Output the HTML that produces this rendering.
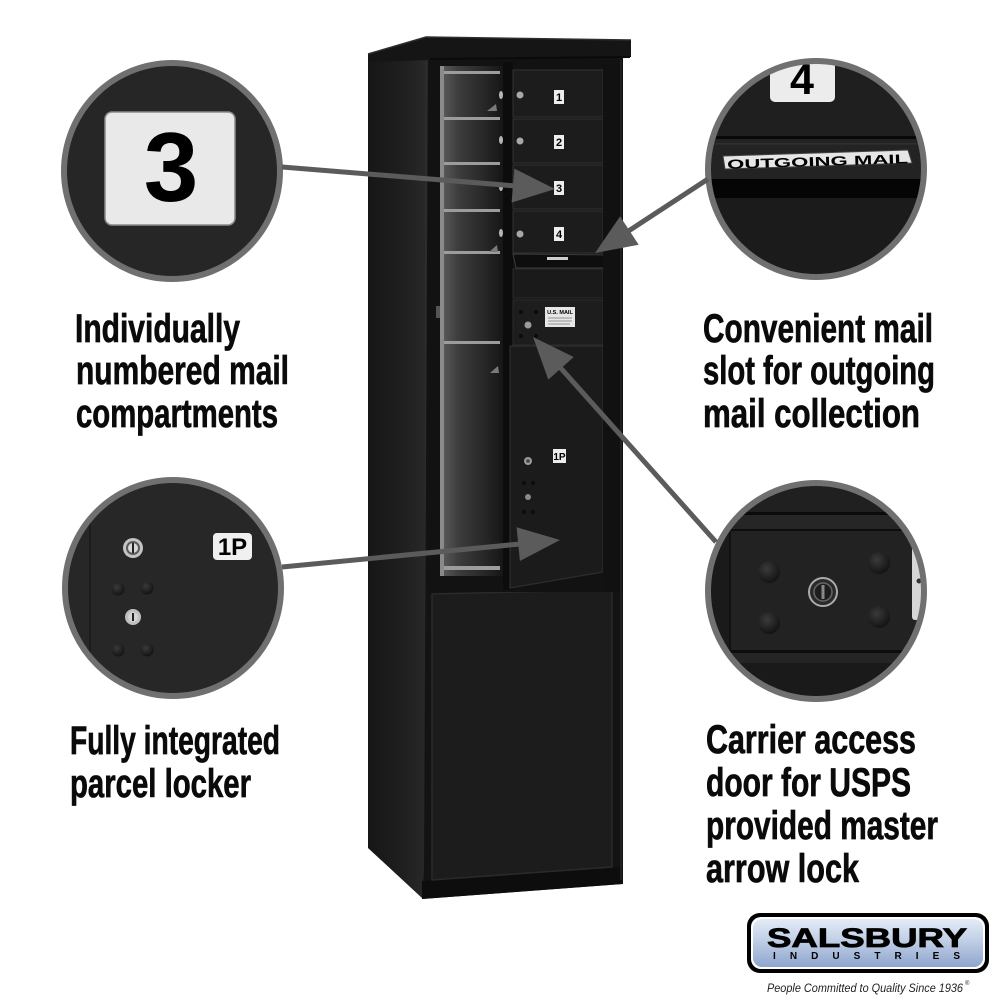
<!DOCTYPE html>
<html><head><meta charset="utf-8"><style>
html,body{margin:0;padding:0;background:#fff;}
svg{display:block;}
.t{font-family:"Liberation Sans",Arial,sans-serif;font-weight:bold;font-size:40px;fill:#0a0a0a;stroke:#0a0a0a;stroke-width:0.7px;}
</style></head><body>
<svg width="1000" height="1000" viewBox="0 0 1000 1000" xmlns="http://www.w3.org/2000/svg">
<defs>
  <linearGradient id="side" x1="0" x2="1" y1="0" y2="0">
    <stop offset="0" stop-color="#161616"/><stop offset="0.6" stop-color="#202020"/><stop offset="1" stop-color="#2a2a2a"/>
  </linearGradient>
  <linearGradient id="interior" x1="0" x2="1" y1="0" y2="0">
    <stop offset="0" stop-color="#5e5e5e"/><stop offset="0.3" stop-color="#3c3c3c"/><stop offset="0.65" stop-color="#2a2a2a"/><stop offset="1" stop-color="#161616"/>
  </linearGradient>
  <linearGradient id="logoG" x1="0" x2="0" y1="0" y2="1">
    <stop offset="0" stop-color="#e4ebf6"/><stop offset="0.5" stop-color="#bccbe4"/><stop offset="1" stop-color="#8ea5cd"/>
  </linearGradient>
  <radialGradient id="dot" cx="0.4" cy="0.35" r="0.7">
    <stop offset="0" stop-color="#3a3a3a"/><stop offset="1" stop-color="#111"/>
  </radialGradient>
  <clipPath id="c1"><circle cx="172" cy="171" r="108"/></clipPath>
  <clipPath id="c2"><circle cx="816" cy="169" r="108"/></clipPath>
  <clipPath id="c3"><circle cx="173" cy="588" r="108"/></clipPath>
  <clipPath id="c4"><circle cx="816" cy="591" r="108"/></clipPath>
</defs>
<rect width="1000" height="1000" fill="#fff"/>

<!-- ===== MAILBOX ===== -->
<polygon points="368,58 430,60 430,898 422,898 368,848" fill="url(#side)"/>
<line x1="426" y1="62" x2="426" y2="895" stroke="#2c2c2c" stroke-width="2"/>
<polygon points="428,57 623,57 623,884 422,899 424,870" fill="#131313"/>
<!-- cap -->
<polygon points="368,54 426,37 631,40 631,57 430,60 368,62" fill="#151515"/>
<polyline points="368,54 426,37 631,40" fill="none" stroke="#2e2e2e" stroke-width="1.5"/>
<line x1="430" y1="59" x2="630" y2="57" stroke="#0a0a0a" stroke-width="2"/>
<!-- plinth -->
<polygon points="422,881 622,867 622,884 422,899" fill="#0d0d0d"/>
<!-- lower panel -->
<polygon points="432,594 612,590 612,867 432,880" fill="#1c1c1c" stroke="#2a2a2a" stroke-width="1.5"/>
<!-- upper frame -->
<rect x="428" y="60" width="195" height="532" fill="#121212"/>
<!-- interior of open door -->
<rect x="440" y="66" width="63" height="510" fill="url(#interior)"/>
<rect x="440" y="66" width="4" height="510" fill="#8a8a8a"/>
<g fill="#9c9c9c">
  <rect x="444" y="71" width="56" height="3"/>
  <rect x="444" y="117" width="56" height="3"/>
  <rect x="444" y="162" width="56" height="3"/>
  <rect x="444" y="209" width="56" height="3"/>
  <rect x="444" y="251" width="56" height="3"/>
  <rect x="444" y="341" width="56" height="3"/>
  <rect x="444" y="566" width="56" height="4"/>
</g>
<g fill="#7a7a7a">
  <polygon points="487,111 496,104 497,111"/>
  <polygon points="489,252 497,245 498,252"/>
  <polygon points="490,373 498,366 499,373"/>
</g>
<g fill="#b5b5b5">
  <ellipse cx="501" cy="95" rx="2" ry="4"/>
  <ellipse cx="501" cy="140" rx="2" ry="4"/>
  <ellipse cx="501" cy="187" rx="2" ry="4"/>
  <ellipse cx="501" cy="233" rx="2" ry="4"/>
</g>
<rect x="436" y="306" width="4" height="12" fill="#555"/>
<!-- divider -->
<rect x="503" y="62" width="10" height="528" fill="#0c0c0c"/>
<!-- compartment doors -->
<g fill="#1c1c1c" stroke="#2f2f2f" stroke-width="1.2">
  <rect x="513" y="70" width="90" height="47"/>
  <rect x="513" y="119" width="90" height="44"/>
  <rect x="513" y="165" width="90" height="44"/>
  <rect x="513" y="211" width="90" height="42"/>
</g>
<g fill="#ededed">
  <rect x="554" y="90" width="10" height="14"/>
  <rect x="554" y="135" width="10" height="14"/>
  <rect x="554" y="181" width="10" height="14"/>
  <rect x="554" y="227" width="10" height="14"/>
</g>
<g font-family="Liberation Sans, Arial, sans-serif" font-weight="bold" font-size="11" fill="#000" text-anchor="middle">
  <text x="559" y="101">1</text>
  <text x="559" y="146">2</text>
  <text x="559" y="192">3</text>
  <text x="559" y="238">4</text>
</g>
<g fill="#a8a8a8">
  <circle cx="520" cy="95" r="3.5"/><circle cx="520" cy="141" r="3.5"/><circle cx="520" cy="234" r="3.5"/>
</g>
<!-- outgoing slot -->
<polygon points="513,254 613,255 609,268 516,268" fill="#0e0e0e" stroke="#3a3a3a" stroke-width="1"/>
<rect x="547" y="257" width="21" height="3" fill="#cfcfcf"/>
<rect x="513" y="269" width="90" height="29" fill="#1a1a1a" stroke="#2a2a2a" stroke-width="1"/>
<!-- USPS panel -->
<rect x="513" y="300" width="90" height="45" fill="#1d1d1d" stroke="#2c2c2c" stroke-width="1"/>
<rect x="545" y="307" width="30" height="20" fill="#e6e6e6"/>
<text x="560" y="314" font-family="Liberation Sans, Arial, sans-serif" font-weight="bold" font-size="5.5" text-anchor="middle" fill="#000">U.S. MAIL</text>
<g stroke="#777" stroke-width="0.8"><line x1="548" y1="318" x2="572" y2="318"/><line x1="548" y1="321" x2="572" y2="321"/><line x1="548" y1="324" x2="570" y2="324"/></g>
<circle cx="528" cy="325" r="3.5" fill="#9a9a9a"/>
<g fill="#0c0c0c"><circle cx="521" cy="312" r="2"/><circle cx="536" cy="312" r="2"/><circle cx="521" cy="336" r="2"/><circle cx="536" cy="336" r="2"/></g>
<!-- parcel door -->
<polygon points="510,346 603,346 603,572 510,588" fill="#1b1b1b" stroke="#2d2d2d" stroke-width="1.2"/>
<rect x="553" y="449" width="13" height="14" fill="#ececec"/>
<text x="559.5" y="460" font-family="Liberation Sans, Arial, sans-serif" font-weight="bold" font-size="10" text-anchor="middle" fill="#000">1P</text>
<circle cx="528" cy="461" r="4" fill="#9a9a9a"/><circle cx="528" cy="461" r="1.8" fill="#444"/>
<circle cx="528" cy="497" r="3" fill="#8a8a8a"/>
<g fill="#0d0d0d"><circle cx="524" cy="483" r="2.2"/><circle cx="533" cy="483" r="2.2"/><circle cx="524" cy="512" r="2.2"/><circle cx="533" cy="512" r="2.2"/></g>
<!-- right frame -->
<rect x="603" y="60" width="20" height="532" fill="#111"/>
<line x1="621" y1="60" x2="621" y2="880" stroke="#262626" stroke-width="1.5"/>

<!-- ===== CIRCLE 1 ===== -->
<circle cx="172" cy="171" r="108" fill="#262626"/>
<g clip-path="url(#c1)">
  <rect x="105" y="112" width="130" height="113" rx="7" fill="#e9e9e9" stroke="#8a8a8a" stroke-width="1.5"/>
  <text x="171" y="201" font-family="Liberation Sans, Arial, sans-serif" font-weight="bold" font-size="98" text-anchor="middle" fill="#000">3</text>
</g>
<circle cx="172" cy="171" r="108" fill="none" stroke="#707070" stroke-width="6"/>

<!-- ===== CIRCLE 2 ===== -->
<circle cx="816" cy="169" r="108" fill="#1e1e1e"/>
<g clip-path="url(#c2)">
  <rect x="700" y="55" width="240" height="83" fill="#1f1f1f"/>
  <rect x="770" y="40" width="65" height="62" rx="5" fill="#ececec"/>
  <text x="802" y="94" font-family="Liberation Sans, Arial, sans-serif" font-weight="bold" font-size="43" text-anchor="middle" fill="#000">4</text>
  <rect x="700" y="136" width="240" height="3" fill="#080808"/>
  <rect x="700" y="139" width="240" height="40" fill="#232323"/>
  <rect x="700" y="143" width="240" height="1.5" fill="#303030"/>
  <polygon points="723,156 908,150 912,163 725,169" fill="#e6e6e6" stroke="#444" stroke-width="1"/>
  <text x="727" y="166" transform="rotate(-1.8 818 160)" font-family="Liberation Sans, Arial, sans-serif" font-weight="bold" font-size="13" fill="#000" textLength="181" lengthAdjust="spacingAndGlyphs">OUTGOING MAIL</text>
  <rect x="700" y="179" width="240" height="19" fill="#050505"/>
  <rect x="700" y="198" width="240" height="90" fill="#1b1b1b"/>
</g>
<circle cx="816" cy="169" r="108" fill="none" stroke="#707070" stroke-width="6"/>

<!-- ===== CIRCLE 3 ===== -->
<circle cx="173" cy="588" r="108" fill="#272727"/>
<g clip-path="url(#c3)">
  <rect x="89" y="470" width="2" height="240" fill="#1c1c1c"/>
  <circle cx="133" cy="548" r="10" fill="#c4c4c4"/><circle cx="133" cy="548" r="7" fill="#5a5a5a"/><circle cx="133" cy="548" r="5" fill="#d8d8d8"/><rect x="132" y="543" width="2" height="10" fill="#222"/>
  <circle cx="133" cy="617" r="8" fill="#bfbfbf"/><circle cx="133" cy="617" r="5" fill="#d4d4d4"/><rect x="132" y="613" width="2" height="8" fill="#222"/>
  <circle cx="118" cy="589" r="6.5" fill="url(#dot)"/><circle cx="147" cy="588" r="6.5" fill="url(#dot)"/>
  <circle cx="118" cy="650" r="6.5" fill="url(#dot)"/><circle cx="147" cy="650" r="6.5" fill="url(#dot)"/>
  <rect x="213" y="533" width="39" height="27" rx="4" fill="#f0f0f0"/>
  <text x="232.5" y="555" font-family="Liberation Sans, Arial, sans-serif" font-weight="bold" font-size="24" text-anchor="middle" fill="#000">1P</text>
</g>
<circle cx="173" cy="588" r="108" fill="none" stroke="#707070" stroke-width="6"/>

<!-- ===== CIRCLE 4 ===== -->
<circle cx="816" cy="591" r="108" fill="#1c1c1c"/>
<g clip-path="url(#c4)">
  <rect x="700" y="475" width="240" height="38" fill="#202020"/>
  <rect x="700" y="512" width="240" height="3" fill="#0b0b0b"/>
  <rect x="700" y="515" width="240" height="14" fill="#262626"/>
  <rect x="700" y="529" width="240" height="2" fill="#0e0e0e"/>
  <rect x="730" y="531" width="210" height="119" fill="#222"/>
  <rect x="700" y="531" width="30" height="119" fill="#1a1a1a"/>
  <rect x="729" y="531" width="2" height="119" fill="#111"/>
  <rect x="700" y="650" width="240" height="3" fill="#0d0d0d"/>
  <rect x="700" y="653" width="240" height="10" fill="#252525"/>
  <rect x="700" y="663" width="240" height="50" fill="#1a1a1a"/>
  <circle cx="769" cy="572" r="11" fill="url(#dot)"/><circle cx="879" cy="563" r="11" fill="url(#dot)"/>
  <circle cx="769" cy="623" r="11" fill="url(#dot)"/><circle cx="879" cy="617" r="11" fill="url(#dot)"/>
  <circle cx="823" cy="592" r="15" fill="#2a2a2a"/><circle cx="823" cy="592" r="14" fill="none" stroke="#aaa" stroke-width="2"/>
  <circle cx="823" cy="592" r="9" fill="#1e1e1e" stroke="#666" stroke-width="1.5"/>
  <rect x="821.5" y="585" width="3" height="14" fill="#888"/>
  <rect x="912" y="545" width="25" height="75" rx="3" fill="#d6d6d6"/>
  <circle cx="919" cy="581" r="2.5" fill="#333"/>
</g>
<circle cx="816" cy="591" r="108" fill="none" stroke="#707070" stroke-width="6"/>

<!-- ===== ARROWS ===== -->
<g fill="#5b5b5b" stroke="#5b5b5b">
  <line x1="282" y1="167" x2="516" y2="186" stroke-width="5"/>
  <polygon points="555,189 514.4,168.6 511.6,202.6" stroke="none"/>
  <line x1="708" y1="179" x2="627" y2="232" stroke-width="5"/>
  <polygon points="595,253 620.1,216.4 638.7,244.8" stroke="none"/>
  <line x1="282" y1="567" x2="520" y2="544" stroke-width="5"/>
  <polygon points="560,540 519.9,561 516.6,527.2" stroke="none"/>
  <line x1="716" y1="542" x2="558" y2="365" stroke-width="5"/>
  <polygon points="533,337 548.3,379.6 573.7,357" stroke="none"/>
</g>

<!-- ===== TEXT ===== -->
<text class="t" x="75" y="342" textLength="165" lengthAdjust="spacingAndGlyphs">Individually</text>
<text class="t" x="76" y="384" textLength="213" lengthAdjust="spacingAndGlyphs">numbered mail</text>
<text class="t" x="76" y="427" textLength="202" lengthAdjust="spacingAndGlyphs">compartments</text>

<text class="t" x="703" y="342" textLength="230" lengthAdjust="spacingAndGlyphs">Convenient mail</text>
<text class="t" x="703" y="384" textLength="232" lengthAdjust="spacingAndGlyphs">slot for outgoing</text>
<text class="t" x="703" y="427" textLength="217" lengthAdjust="spacingAndGlyphs">mail collection</text>

<text class="t" x="70" y="754" textLength="210" lengthAdjust="spacingAndGlyphs">Fully integrated</text>
<text class="t" x="70" y="797" textLength="181" lengthAdjust="spacingAndGlyphs">parcel locker</text>

<text class="t" x="706" y="753" textLength="210" lengthAdjust="spacingAndGlyphs">Carrier access</text>
<text class="t" x="706" y="796" textLength="205" lengthAdjust="spacingAndGlyphs">door for USPS</text>
<text class="t" x="706" y="839" textLength="232" lengthAdjust="spacingAndGlyphs">provided master</text>
<text class="t" x="706" y="882" textLength="153" lengthAdjust="spacingAndGlyphs">arrow lock</text>

<!-- ===== LOGO ===== -->
<rect x="747" y="913" width="242" height="60" rx="13" fill="#000"/>
<rect x="751" y="917" width="234" height="52" rx="10" fill="#fff"/>
<rect x="753" y="919" width="230" height="48" rx="9" fill="url(#logoG)"/>
<text x="767" y="947" font-family="Liberation Sans, Arial, sans-serif" font-weight="bold" font-size="26.5" fill="#000" stroke="#000" stroke-width="0.8" textLength="200" lengthAdjust="spacingAndGlyphs">SALSBURY</text>
<text x="773" y="959" font-family="Liberation Sans, Arial, sans-serif" font-weight="bold" font-size="10" fill="#000" textLength="187" lengthAdjust="spacing">INDUSTRIES</text>
<text x="767" y="992" font-family="Liberation Sans, Arial, sans-serif" font-style="italic" font-size="11.5" fill="#222" textLength="196" lengthAdjust="spacingAndGlyphs">People Committed to Quality Since 1936</text>
<text x="965" y="985" font-family="Liberation Sans, Arial, sans-serif" font-size="6" fill="#222">®</text>
</svg>
</body></html>
